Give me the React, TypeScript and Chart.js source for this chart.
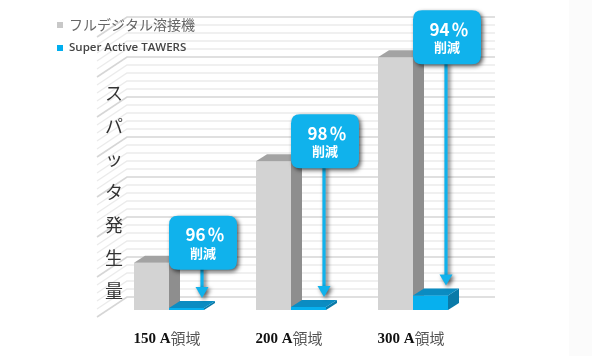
import React, { useEffect, useRef } from "react";
import { Chart, registerables } from "chart.js";

Chart.register(...registerables);

const categories = ["150 A", "200 A", "300 A"];
const categorySuffix = "領域";
const seriesNames = ["フルデジタル溶接機", "Super Active TAWERS"];
const conventionalValues = [5.9, 18.6, 31.6];
const tawersValues = [0.24, 0.37, 1.8];
const reductions = [96, 98, 94];
const yTitle = "スパッタ発生量";
const yMax = 35;

const GREY_FRONT = "#d3d3d3";
const GREY_SIDE = "#8e8e8e";
const GREY_TOP = "#a3a3a3";
const BLUE_FRONT = "#07b0ee";
const BLUE_SIDE = "#0a7aa8";
const BLUE_TOP = "#0b8cc2";
const CALLOUT = "#10b2ec";

const DX = 11;
const DY = 7;
const WALL_DY = 13;

function roundRect(ctx: CanvasRenderingContext2D, x: number, y: number, w: number, h: number, r: number) {
  ctx.beginPath();
  ctx.moveTo(x + r, y);
  ctx.lineTo(x + w - r, y);
  ctx.quadraticCurveTo(x + w, y, x + w, y + r);
  ctx.lineTo(x + w, y + h - r);
  ctx.quadraticCurveTo(x + w, y + h, x + w - r, y + h);
  ctx.lineTo(x + r, y + h);
  ctx.quadraticCurveTo(x, y + h, x, y + h - r);
  ctx.lineTo(x, y + r);
  ctx.quadraticCurveTo(x, y, x + r, y);
  ctx.closePath();
}

function faces(ctx: CanvasRenderingContext2D, bar: any, side: string, top: string) {
  const p = bar.getProps(["x", "y", "base", "width"], true);
  const l = p.x - p.width / 2;
  const r = p.x + p.width / 2;
  const t = p.y;
  const b = p.base;
  ctx.fillStyle = side;
  ctx.beginPath();
  ctx.moveTo(r, t);
  ctx.lineTo(r + DX, t - DY);
  ctx.lineTo(r + DX, b - DY);
  ctx.lineTo(r, b);
  ctx.closePath();
  ctx.fill();
  ctx.fillStyle = top;
  ctx.beginPath();
  ctx.moveTo(l, t);
  ctx.lineTo(l + DX, t - DY);
  ctx.lineTo(r + DX, t - DY);
  ctx.lineTo(r, t);
  ctx.closePath();
  ctx.fill();
}

const decorPlugin = {
  id: "decor",
  beforeDraw(chart: any) {
    const ctx = chart.ctx as CanvasRenderingContext2D;
    ctx.save();
    ctx.fillStyle = "#ffffff";
    ctx.fillRect(0, 0, chart.width, chart.height);
    ctx.fillStyle = "#fbfbfb";
    ctx.fillRect(569, 0, chart.width - 569, chart.height);
    ctx.restore();
  },
  beforeDatasetsDraw(chart: any) {
    const ctx = chart.ctx as CanvasRenderingContext2D;
    const y = chart.scales.y;
    const wallLeft = 127;
    const wallRight = 495;
    ctx.save();
    for (let v = 0; v <= yMax; v++) {
      const yb = y.getPixelForValue(v) - WALL_DY;
      const major = v % 5 === 0;
      ctx.strokeStyle = major ? "#d6d6d6" : "#ebebeb";
      ctx.lineWidth = major ? 1.6 : 1.3;
      ctx.beginPath();
      ctx.moveTo(wallLeft - 30, yb + 20);
      ctx.lineTo(wallLeft, yb);
      ctx.lineTo(wallRight, yb);
      ctx.stroke();
    }
    ctx.restore();
  },
  afterDatasetsDraw(chart: any) {
    const ctx = chart.ctx as CanvasRenderingContext2D;
    const greyMeta = chart.getDatasetMeta(0);
    const blueMeta = chart.getDatasetMeta(1);
    ctx.save();
    greyMeta.data.forEach((gBar: any, i: number) => {
      faces(ctx, gBar, GREY_SIDE, GREY_TOP);
      const bBar = blueMeta.data[i];
      bBar.draw(ctx, chart.chartArea);
      faces(ctx, bBar, BLUE_SIDE, BLUE_TOP);
    });
    ctx.restore();
  },
  afterDraw(chart: any) {
    const ctx = chart.ctx as CanvasRenderingContext2D;
    const greyMeta = chart.getDatasetMeta(0);
    const blueMeta = chart.getDatasetMeta(1);
    ctx.save();
    reductions.forEach((pct, i) => {
      const g = greyMeta.data[i].getProps(["x", "y", "width"], true);
      const bl = blueMeta.data[i].getProps(["x", "y", "width"], true);
      const ax = bl.x + bl.width / 2 - 2;
      const tipY = bl.y - 10;
      const bw = 68;
      const bh = 54;
      const bx = ax - bw / 2 + 1;
      const by = g.y - 47;
      ctx.save();
      ctx.shadowColor = "rgba(0,0,0,0.65)";
      ctx.shadowBlur = 4;
      ctx.shadowOffsetX = 2;
      ctx.shadowOffsetY = 2;
      ctx.fillStyle = CALLOUT;
      ctx.fillRect(ax - 1.6, by + bh - 2, 3.2, tipY - 10 - (by + bh - 2));
      ctx.beginPath();
      ctx.moveTo(ax - 6.5, tipY - 11);
      ctx.lineTo(ax + 6.5, tipY - 11);
      ctx.lineTo(ax, tipY);
      ctx.closePath();
      ctx.fill();
      roundRect(ctx, bx, by, bw, bh, 9);
      ctx.fill();
      ctx.restore();
      ctx.fillStyle = "#ffffff";
      ctx.textBaseline = "middle";
      ctx.font = "bold 17px 'Noto Sans CJK JP', sans-serif";
      const numText = String(pct);
      const wNum = ctx.measureText(numText).width;
      const wPct = ctx.measureText("％").width;
      const gap = 2;
      const startX = bx + bw / 2 - (wNum + gap + wPct) / 2 + 2;
      ctx.textAlign = "left";
      ctx.fillText(numText, startX, by + 19);
      ctx.fillText("％", startX + wNum + gap, by + 19);
      ctx.textAlign = "center";
      ctx.font = "bold 13px 'Noto Sans CJK JP', sans-serif";
      ctx.fillText("削減", bx + bw / 2, by + 37);
    });
    categories.forEach((c, i) => {
      const cx = chart.scales.x.getPixelForValue(i);
      ctx.textBaseline = "middle";
      ctx.textAlign = "left";
      ctx.font = "bold 15px 'Liberation Serif', serif";
      const w1 = ctx.measureText(c).width;
      ctx.font = "15px 'Noto Sans CJK JP', sans-serif";
      const w2 = ctx.measureText(categorySuffix).width;
      const sx = cx - (w1 + w2) / 2 - 2;
      ctx.font = "bold 15px 'Liberation Serif', serif";
      ctx.fillStyle = "#111111";
      ctx.fillText(c, sx, 339);
      ctx.font = "15px 'Noto Sans CJK JP', sans-serif";
      ctx.fillStyle = "#555555";
      ctx.fillText(categorySuffix, sx + w1, 338);
    });
    ctx.fillStyle = "#333333";
    ctx.textAlign = "center";
    ctx.textBaseline = "middle";
    ctx.font = "18px 'Noto Sans CJK JP', sans-serif";
    Array.from(yTitle).forEach((ch, i) => {
      ctx.fillText(ch, 114, 93 + i * 33);
    });
    ctx.textAlign = "left";
    ctx.fillStyle = "#c8c8c8";
    ctx.fillRect(57, 22, 6, 6);
    ctx.fillStyle = "#666666";
    ctx.font = "14px 'Noto Sans CJK JP', sans-serif";
    ctx.fillText(seriesNames[0], 69, 25);
    ctx.fillStyle = "#00aeef";
    ctx.fillRect(57, 45, 6, 6);
    ctx.fillStyle = "#444444";
    ctx.font = "600 11.5px 'Open Sans', sans-serif";
    ctx.fillText(seriesNames[1], 69, 48);
    ctx.restore();
  },
};

export default function App() {
  const ref = useRef<HTMLCanvasElement | null>(null);
  useEffect(() => {
    document.body.style.margin = "0";
    if (!ref.current) return;
    const chart = new Chart(ref.current, {
      type: "bar",
      data: {
        labels: categories,
        datasets: [
          {
            label: seriesNames[0],
            data: conventionalValues,
            backgroundColor: GREY_FRONT,
            borderWidth: 0,
            categoryPercentage: 0.574,
            barPercentage: 1,
          },
          {
            label: seriesNames[1],
            data: tawersValues,
            backgroundColor: BLUE_FRONT,
            borderWidth: 0,
            categoryPercentage: 0.574,
            barPercentage: 1,
          },
        ],
      },
      options: {
        animation: false,
        responsive: false,
        maintainAspectRatio: false,
        layout: { padding: { left: 108, right: 118, top: 30, bottom: 46 } },
        plugins: { legend: { display: false }, tooltip: { enabled: false } },
        scales: {
          x: { display: false },
          y: { display: false, min: 0, max: yMax },
        },
      },
      plugins: [decorPlugin],
    });
    return () => chart.destroy();
  }, []);
  return (
    <div style={{ position: "fixed", left: 0, top: 0, width: 592, height: 356 }}>
      <canvas ref={ref} width={592} height={356} style={{ width: 592, height: 356 }} />
    </div>
  );
}
